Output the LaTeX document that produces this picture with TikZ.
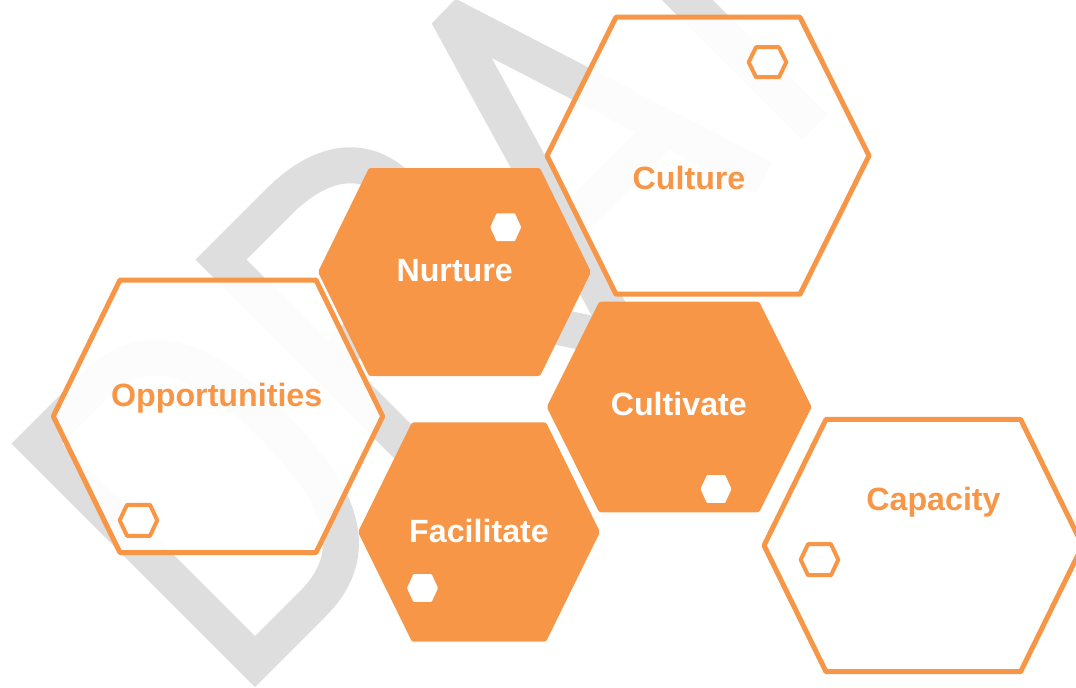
\documentclass[tikz,border=0pt]{standalone}
\usepackage{fontspec}
\setmainfont{Liberation Sans}
\definecolor{hex_orange}{RGB}{247,150,70}
\definecolor{mark_gray}{RGB}{222,222,222}

% hexagon: style, centre x, centre y, half top edge, slant, half height
\newcommand{\hexshape}[6]{%
  \path[#1] ({#2-#4},{#3-#6}) -- ({#2+#4},{#3-#6}) -- ({#2+#4+#5},{#3})
    -- ({#2+#4},{#3+#6}) -- ({#2-#4},{#3+#6}) -- ({#2-#4-#5},{#3}) -- cycle;}

\begin{document}
\begin{tikzpicture}[x=0.025cm,y=-0.025cm]
    \tikzstyle{hex_line}=[draw=hex_orange, line width=0.125cm, line join=round, fill=white, fill opacity=0.92]
    \tikzstyle{hex_full}=[fill=hex_orange, rounded corners=1.5pt]
    \tikzstyle{dot_line}=[draw=hex_orange, line width=0.1cm, line join=round, fill=white]
    \tikzstyle{dot_full}=[fill=white, rounded corners=0.5pt]
    \tikzstyle{title_on}=[text=white, font=\bfseries\fontsize{22.9}{27}\selectfont, anchor=base, inner sep=0pt]
    \tikzstyle{title_off}=[title_on, text=hex_orange]

    \useasboundingbox (0,0) rectangle (1076,687);
    \clip (0,0) rectangle (1076,687);

    % watermark letters, tilted
    \begin{scope}[shift={(255,687)}, x={(0.01768cm,0.01768cm)}, y={(-0.01768cm,0.01768cm)}, draw=mark_gray, line width=0.9cm]
      \draw[line join=miter] (18,18) -- (18,326) -- (100,326) .. controls (172,326) and (197,270) .. (197,172)
        .. controls (197,74) and (172,18) .. (100,18) -- cycle;
      \draw (278,0) -- (278,326) -- (360,326) .. controls (425,326) and (455,295) .. (455,252)
        .. controls (455,205) and (425,176) .. (365,176) -- (278,176);
      \draw (380,176) -- (495,0);
      \draw[line join=bevel] (512,0) -- (611,339) -- (719,0);
      \draw (542,105) -- (686,105);
      \draw (791,0) -- (791,326) -- (960,326);
      \draw (791,190) -- (930,190);
    \end{scope}

    \hexshape{hex_line}{708}{155.7}{92}{69}{138.5}
    \hexshape{hex_full}{454.5}{272}{85.5}{51}{104}
    \hexshape{hex_line}{218}{416.3}{98}{66.7}{136.3}
    \hexshape{hex_full}{479}{532}{67}{54}{109.7}
    \hexshape{hex_full}{679.2}{407}{80}{52.5}{105.3}
    \hexshape{hex_line}{923.3}{545.5}{97.3}{62}{126.2}

    \hexshape{dot_line}{767.5}{62.2}{11.5}{7.3}{15}
    \hexshape{dot_line}{138.5}{520.3}{11.5}{7.3}{15.5}
    \hexshape{dot_line}{819.5}{559.7}{11.5}{7.3}{15.5}
    \hexshape{dot_full}{505.7}{227.2}{9.2}{6.3}{13.8}
    \hexshape{dot_full}{422.5}{588}{9.2}{6.3}{13.8}
    \hexshape{dot_full}{716}{489}{9.2}{6.3}{13.8}

    \node[title_off] (culture)       at (689,189.3)   {Culture};
    \node[title_on]  (nurture)       at (454.7,281.7) {Nurture};
    \node[title_off] (opportunities) at (216.7,406)   {Opportunities};
    \node[title_on]  (cultivate)     at (678.8,415.7) {Cultivate};
    \node[title_on]  (facilitate)    at (479,542.7)   {Facilitate};
    \node[title_off] (capacity)      at (933.5,510)   {Capacity};
\end{tikzpicture}
\end{document}
